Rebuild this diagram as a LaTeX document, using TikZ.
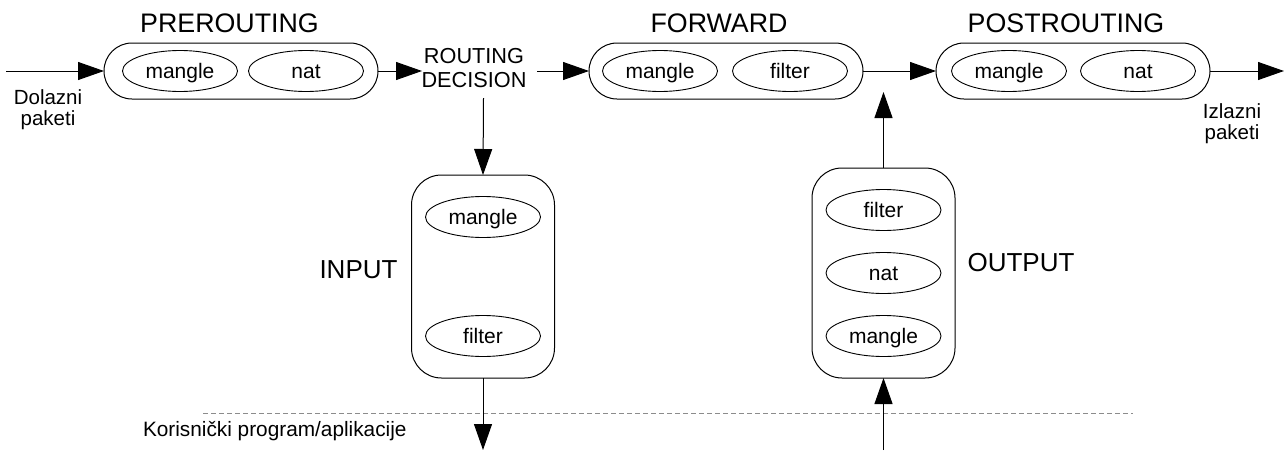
\documentclass[tikz,border=0pt]{standalone}
\usepackage{fontspec}
\setmainfont{Liberation Sans}
\usetikzlibrary{arrows.meta,shapes.geometric}

\begin{document}
\begin{tikzpicture}[x=1pt,y=-1pt,
  every node/.style={inner sep=0pt, outer sep=0pt},
  hchain/.style={draw, line width=1pt, rounded corners=28pt,
    minimum width=274pt, minimum height=56pt},
  vchain/.style={draw, line width=1pt, rounded corners=30pt,
    minimum width=143pt},
  tbl/.style={draw, ellipse, line width=0.9pt, minimum width=115pt,
    minimum height=41pt, font=\fontsize{21}{24}\selectfont,
    text height=14.5pt, text depth=0pt},
  chainname/.style={font=\fontsize{26.8}{30}\selectfont, anchor=base},
  note/.style={font=\fontsize{20.5}{21.5}\selectfont, align=center, anchor=north},
  flow/.style={line width=1pt, -{Triangle[length=26pt,width=18pt]}},
  boundary/.style={draw=black!45, line width=1pt, dash pattern=on 5pt off 3pt}
]
\useasboundingbox (0,0) rectangle (1284,450);

% hooks along the main path
\node[hchain] (pre)  at (241,71)  {};
\node[hchain] (fwd)  at (726,71)  {};
\node[hchain] (post) at (1073,71) {};
\node[vchain, minimum height=203pt] (in)  at (483,276.5) {};
\node[vchain, minimum height=210pt] (out) at (883.5,273) {};

% tables inside each hook
\node[tbl] (pre1)  at (180,71)  {mangle};
\node[tbl] (pre2)  at (306,71)  {nat};
\node[tbl] (fwd1)  at (660,71)  {mangle};
\node[tbl] (fwd2)  at (790,71)  {filter};
\node[tbl] (post1) at (1009,71) {mangle};
\node[tbl] (post2) at (1138,71) {nat};
\node[tbl] (in1)   at (483,217) {mangle};
\node[tbl] (in2)   at (483,336) {filter};
\node[tbl] (out1)  at (883.5,210) {filter};
\node[tbl] (out2)  at (883.5,273) {nat};
\node[tbl] (out3)  at (883.5,336) {mangle};

% hook names
\node[chainname] (preL)  at (229.5,32.5) {PREROUTING};
\node[chainname] (fwdL)  at (719,32.5)   {FORWARD};
\node[chainname] (postL) at (1066,32.5)  {POSTROUTING};
\node[chainname, font=\fontsize{26}{30}\selectfont] (inL)  at (358.5,278) {INPUT};
\node[chainname, font=\fontsize{26}{30}\selectfont] (outL) at (1021,271)  {OUTPUT};

% other labels
\node[note] (dol) at (48,89.5) {Dolazni\\paketi};
\node[note] (izl) at (1232,103.5) {Izlazni\\paketi};
\node[note, font=\fontsize{21.7}{24}\selectfont] (rd) at (474,48) {ROUTING\\DECISION};
\node[font=\fontsize{20.8}{24}\selectfont, anchor=base west] (user) at (143,436)
  {Korisnički program/aplikacije};

% free ends of connectors
\coordinate (src)   at (6,71);
\coordinate (rdin)  at (422,71);
\coordinate (rdout) at (537,71);
\coordinate (rddn)  at (483.5,98);
\coordinate (upend) at (883.5,92);
\coordinate (sink)  at (1284,71);
\coordinate (appin) at (483,450);
\coordinate (appout) at (883.5,450);
\coordinate (ub1)   at (203,413);
\coordinate (ub2)   at (1133,413);

% user space boundary
\draw[boundary] (ub1) -- (ub2);

% packet flow
\draw[flow] (src) -- (pre.west);
\draw[flow] (pre.east) -- (rdin);
\draw[flow] (rdout) -- (fwd.west);
\draw[flow] (rddn) -- (in.north);
\draw[flow] (fwd.east) -- (post.west);
\draw[flow] (out.north) -- (upend);
\draw[flow] (post.east) -- (sink);
\draw[flow] (in.south) -- (appin);
\draw[flow] (appout) -- (out.south);
\end{tikzpicture}
\end{document}
